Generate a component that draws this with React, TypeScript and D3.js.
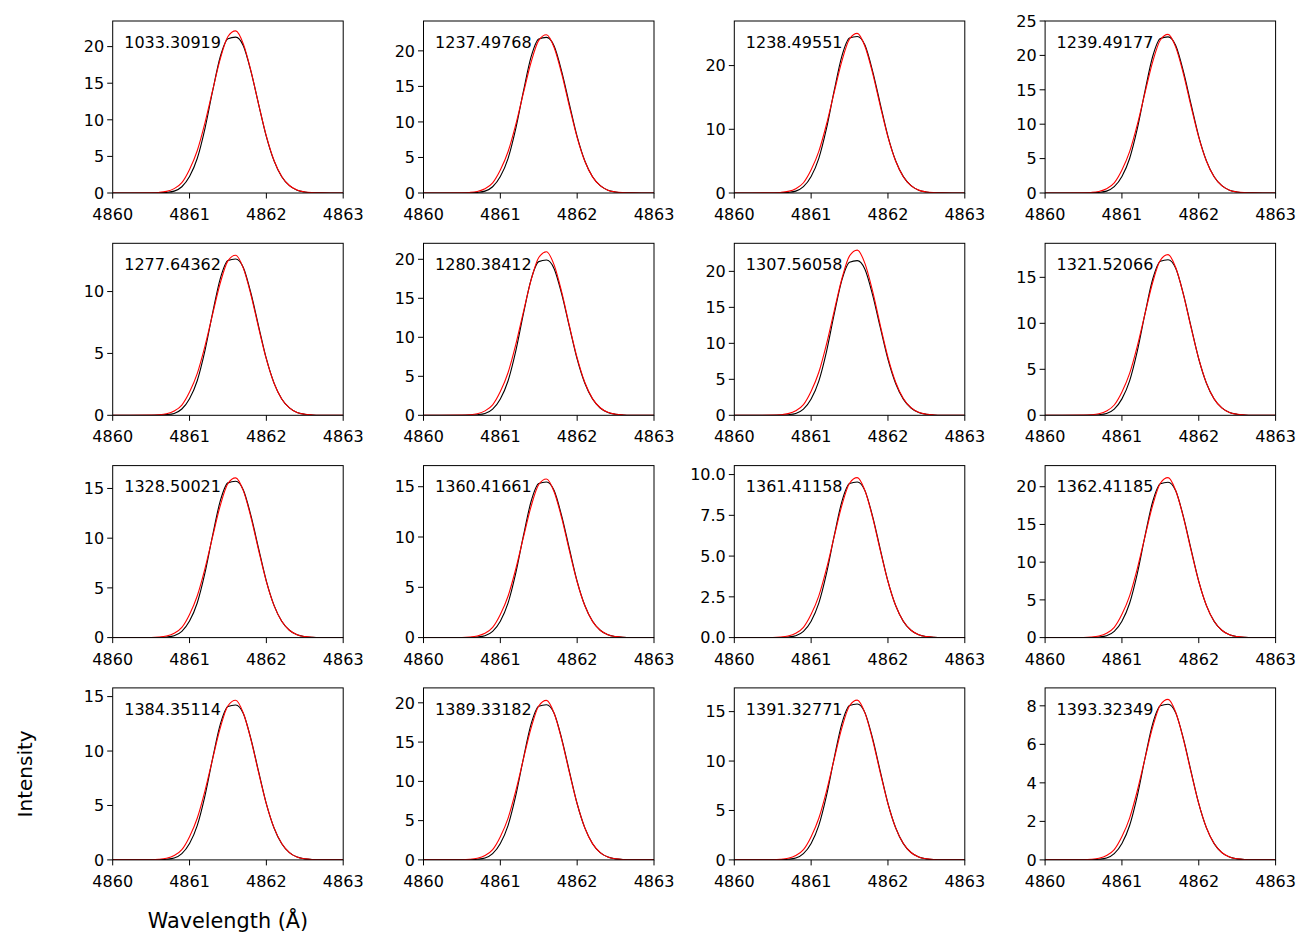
import * as d3 from 'd3'

// line identifiers shown in each panel, row by row
const lineNames = [
  '1033.30919', '1237.49768', '1238.49551', '1239.49177',
  '1277.64362', '1280.38412', '1307.56058', '1321.52066',
  '1328.50021', '1360.41661', '1361.41158', '1362.41185',
  '1384.35114', '1389.33182', '1391.32771', '1393.32349',
]

// wavelength samples (Å) shared by all profiles
const wavelength = [
  4860.0, 4860.5, 4860.6, 4860.7, 4860.8, 4860.9, 4861.0, 4861.1, 4861.2,
  4861.3, 4861.4, 4861.5, 4861.6, 4861.7, 4861.8, 4861.9, 4862.0, 4862.1,
  4862.2, 4862.3, 4862.4, 4862.5, 4862.6, 4862.7, 4863.0,
]

// profile shapes, normalised to their own peak
const redShape = [
  0, 0.001, 0.0033, 0.01, 0.027, 0.064, 0.145, 0.26, 0.43,
  0.63, 0.825, 0.963, 0.998, 0.918, 0.75, 0.544, 0.35, 0.2,
  0.102, 0.046, 0.018, 0.0065, 0.0021, 0.0006, 0,
]
const blackShape = [
  0, 0.0003, 0.001, 0.004, 0.012, 0.04, 0.105, 0.22, 0.41,
  0.65, 0.87, 0.985, 0.995, 0.94, 0.775, 0.565, 0.36, 0.205,
  0.104, 0.047, 0.018, 0.0065, 0.002, 0.0006, 0,
]

// peak intensities per panel
const redPeak = [
  22.2, 22.3, 25.1, 23.1,
  12.96, 21.0, 23.0, 17.5,
  16.1, 15.8, 9.83, 21.25,
  14.7, 20.35, 16.2, 8.35,
]
const blackPeak = [
  21.4, 22.0, 24.7, 22.8,
  12.7, 20.0, 21.6, 17.0,
  15.8, 15.55, 9.59, 20.7,
  14.3, 19.86, 15.85, 8.12,
]

// upper y limit of each panel
const yMax = [
  23.5, 24.2, 27.0, 25.0,
  13.9, 22.05, 23.9, 18.7,
  17.3, 17.1, 10.55, 22.8,
  15.8, 21.9, 17.4, 8.93,
]

const yTickLabels = [
  ['0', '5', '10', '15', '20'], ['0', '5', '10', '15', '20'], ['0', '10', '20'], ['0', '5', '10', '15', '20', '25'],
  ['0', '5', '10'], ['0', '5', '10', '15', '20'], ['0', '5', '10', '15', '20'], ['0', '5', '10', '15'],
  ['0', '5', '10', '15'], ['0', '5', '10', '15'], ['0.0', '2.5', '5.0', '7.5', '10.0'], ['0', '5', '10', '15', '20'],
  ['0', '5', '10', '15'], ['0', '5', '10', '15', '20'], ['0', '5', '10', '15'], ['0', '2', '4', '6', '8'],
]
const xTicks = [4860, 4861, 4862, 4863]

const W = 1312
const H = 952
const LEFT = 112.7
const TOP = 21
const COL_STEP = 310.8
const ROW_STEP = 222.3
const PW = 230.5
const PH = 172
const FONT = 'DejaVu Sans, sans-serif'

function Panel({ i }: { i: number }) {
  const col = i % 4
  const row = Math.floor(i / 4)
  const x = d3.scaleLinear().domain([4860, 4863]).range([0, PW])
  const y = d3.scaleLinear().domain([0, yMax[i]]).range([PH, 0])
  const line = d3
    .line<number>()
    .x((_, k) => x(wavelength[k]))
    .y((v) => y(v))
    .curve(d3.curveMonotoneX)

  const black = blackShape.map((s) => s * blackPeak[i])
  const red = redShape.map((s) => s * redPeak[i])
  const clipId = `clip-${i}`

  return (
    <g transform={`translate(${LEFT + col * COL_STEP},${TOP + row * ROW_STEP})`}>
      <clipPath id={clipId}>
        <rect width={PW} height={PH} />
      </clipPath>
      <g clipPath={`url(#${clipId})`}>
        <path d={line(black) ?? ''} fill="none" stroke="#000" strokeWidth={1.1} />
        <path d={line(red) ?? ''} fill="none" stroke="#ff0000" strokeWidth={1.1} />
      </g>
      <rect width={PW} height={PH} fill="none" stroke="#000" strokeWidth={1} />
      {xTicks.map((t) => (
        <g key={t} transform={`translate(${x(t)},${PH})`}>
          <line y2={5.5} stroke="#000" strokeWidth={1} />
          <text y={27} textAnchor="middle" fontSize={16} fontFamily={FONT}>
            {t}
          </text>
        </g>
      ))}
      {yTickLabels[i].map((s) => (
        <g key={s} transform={`translate(0,${y(+s)})`}>
          <line x2={-5.5} stroke="#000" strokeWidth={1} />
          <text x={-8.5} dy="0.36em" textAnchor="end" fontSize={16} fontFamily={FONT}>
            {s}
          </text>
        </g>
      ))}
      <text x={PW * 0.05} y={PH * 0.15 + 1} fontSize={16} fontFamily={FONT}>
        {lineNames[i]}
      </text>
    </g>
  )
}

export default function App() {
  return (
    <svg
      width={W}
      height={H}
      style={{ position: 'absolute', left: 0, top: 0, background: '#fff' }}
    >
      <rect width={W} height={H} fill="#fff" />
      {lineNames.map((_, i) => (
        <Panel key={i} i={i} />
      ))}
      <text
        x={LEFT + PW / 2}
        y={928}
        textAnchor="middle"
        fontSize={20.8}
        fontFamily={FONT}
      >
        Wavelength (Å)
      </text>
      <text
        transform={`translate(32,${TOP + 3 * ROW_STEP + PH / 2}) rotate(-90)`}
        textAnchor="middle"
        fontSize={20}
        fontFamily={FONT}
      >
        Intensity
      </text>
    </svg>
  )
}
